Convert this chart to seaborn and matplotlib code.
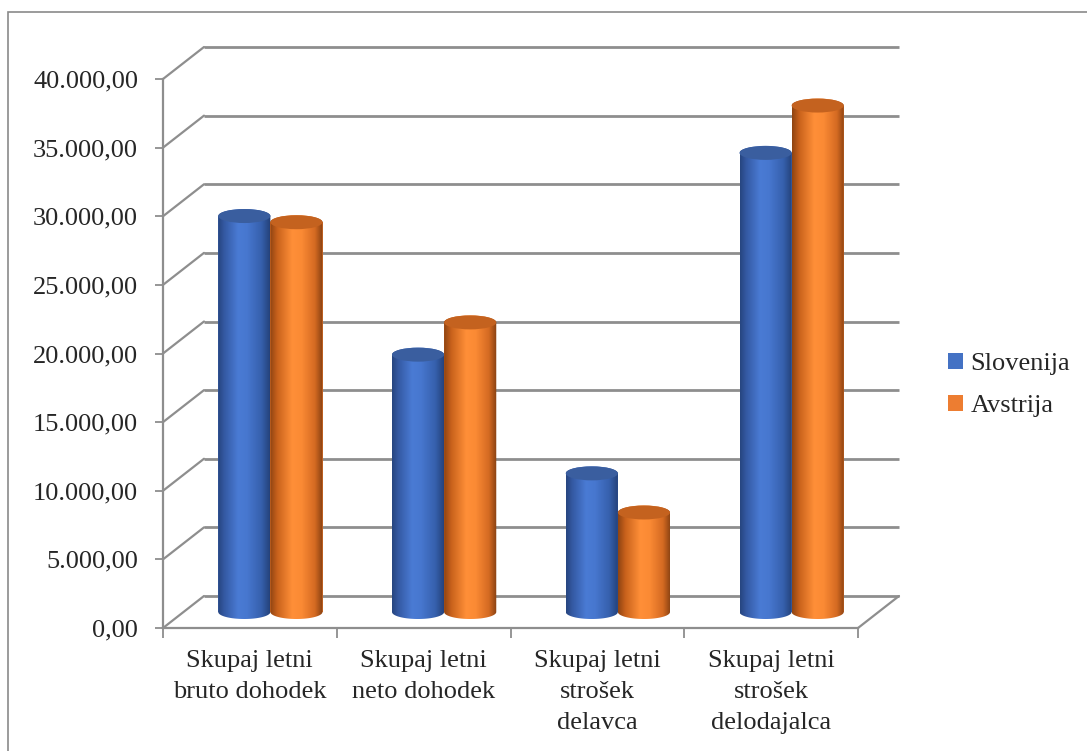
import numpy as np
import pandas as pd
import matplotlib
matplotlib.use("Agg")
import matplotlib.pyplot as plt
import matplotlib.transforms as mtransforms
from matplotlib.colors import LinearSegmentedColormap
from matplotlib.patches import Ellipse, Rectangle, PathPatch
from matplotlib.path import Path
import seaborn as sns

# --- data -------------------------------------------------------------
categories = [
    "Skupaj letni\nbruto dohodek",
    "Skupaj letni\nneto dohodek",
    "Skupaj letni\nstrošek\ndelavca",
    "Skupaj letni\nstrošek\ndelodajalca",
]
series = ["Slovenija", "Avstrija"]
slovenija = [28850, 18750, 10100, 33450]
avstrija = [28400, 21100, 7250, 36900]
y_ticks = [0, 5000, 10000, 15000, 20000, 25000, 30000, 35000, 40000]

df = pd.DataFrame({
    "kategorija": categories * 2,
    "vrednost": slovenija + avstrija,
    "država": [series[0]] * len(categories) + [series[1]] * len(categories),
})

# --- style ------------------------------------------------------------
sns.set_style("white")
plt.rcParams["font.family"] = ["Liberation Serif", "DejaVu Serif"]
FS = 19

W, H = 1087, 751
fig = plt.figure(figsize=(W / 100, H / 100), dpi=100)
fig.patch.set_facecolor("white")

# front plane of the pseudo-3D box (pixels)
X0, X1 = 163, 858
Y0, Y1 = 628, 79
ax = fig.add_axes([X0 / W, (H - Y0) / H, (X1 - X0) / W, (Y0 - Y1) / H])
ax.set_facecolor("none")

XMIN, XMAX = -0.5, 3.5
YMIN, YMAX = 0, 40000
px_x = (X1 - X0) / (XMAX - XMIN)
px_y = (Y0 - Y1) / (YMAX - YMIN)
DX_PX, DY_PX = 41, 32           # depth offset of the back wall
dx, dy = DX_PX / px_x, DY_PX / px_y

blue, orange = "#4472C4", "#ED7D31"
sns.barplot(data=df, x="kategorija", y="vrednost", hue="država",
            palette=[blue, orange], width=0.6, saturation=1,
            ax=ax, linewidth=0, zorder=2)

GRID = "#8e8e8e"
GLW = 2.0
# back wall grid + left side-wall diagonals
for v in y_ticks:
    ax.plot([XMIN + dx, XMAX + dx], [v + dy, v + dy], color=GRID, lw=GLW,
            clip_on=False, zorder=0.5, solid_capstyle="butt")
    ax.plot([XMIN, XMIN + dx], [v, v + dy], color=GRID, lw=1.6,
            clip_on=False, zorder=0.5)
# right edge of the floor
ax.plot([XMAX, XMAX + dx], [0, dy], color=GRID, lw=1.6, clip_on=False, zorder=0.5)

# --- cylinders ----------------------------------------------------------
mid = ax.transData + mtransforms.ScaledTranslation(DX_PX / 2 / 100, DY_PX / 2 / 100,
                                                   fig.dpi_scale_trans)
e = 7.0 / px_y  # half height of the elliptical ends

shade = {
    blue: LinearSegmentedColormap.from_list("b", [
        (0.0, "#27457f"), (0.12, "#3459a3"), (0.38, "#4a7bd4"),
        (0.55, "#4777cf"), (0.82, "#3660ad"), (1.0, "#233f75")]),
    orange: LinearSegmentedColormap.from_list("o", [
        (0.0, "#8e4412"), (0.14, "#c9621c"), (0.42, "#ff8f38"),
        (0.6, "#fb8a34"), (0.85, "#d46a22"), (1.0, "#864012")]),
}
cap = {blue: "#3a5e9f", orange: "#c4621f"}

bars = [p for p in ax.patches if isinstance(p, Rectangle) and p.get_height() > 0]
n_cat = len(categories)
for i, p in enumerate(bars):
    col = blue if i < n_cat else orange
    z = 2 + (i // n_cat)
    x0, w, h = p.get_x(), p.get_width(), p.get_height()
    p.set_transform(mid)
    p.set_clip_on(False)
    p.set_zorder(z)

    t = np.linspace(0, np.pi, 60)
    bottom = np.column_stack([x0 + w / 2 - w / 2 * np.cos(t), -e * np.sin(t)])
    top = np.column_stack([x0 + w / 2 + w / 2 * np.cos(t), h + e * np.sin(t)])
    verts = np.vstack([bottom, top, bottom[:1]])
    codes = [Path.MOVETO] + [Path.LINETO] * (len(verts) - 2) + [Path.CLOSEPOLY]
    body = PathPatch(Path(verts, codes), transform=mid, facecolor="none",
                     edgecolor="none")
    ax.add_patch(body)
    img = ax.imshow(np.linspace(0, 1, 256)[None, :], cmap=shade[col],
                    extent=(x0, x0 + w, -e, h + e), aspect="auto",
                    transform=mid, zorder=z + 0.1, interpolation="bilinear")
    img.set_clip_path(body)
    ax.add_patch(Ellipse((x0 + w / 2, h), w, 2 * e, transform=mid,
                         facecolor=cap[col], edgecolor="none", zorder=z + 0.2,
                         clip_on=False))

ax.set_xlim(XMIN, XMAX)
ax.set_ylim(YMIN, YMAX)

# --- axes, ticks, labels --------------------------------------------------
def fmt(v):
    s = f"{v:,.2f}"
    return s.replace(",", " ").replace(".", ",").replace(" ", ".")

for side in ("top", "right"):
    ax.spines[side].set_visible(False)
for side in ("left", "bottom"):
    ax.spines[side].set_color(GRID)
    ax.spines[side].set_linewidth(1.6)

ax.set_yticks(y_ticks)
ax.set_yticklabels([fmt(v) for v in y_ticks], fontsize=FS)
ax.set_xticks(range(n_cat))
ax.set_xticklabels(categories, fontsize=FS, linespacing=1.52, va="top")
ax.set_xticks(np.arange(XMIN, XMAX + 0.01, 1), minor=True)
ax.tick_params(axis="y", length=6, width=1.3, color=GRID, pad=12,
               left=True, direction="out")
ax.tick_params(axis="x", which="major", length=0, pad=16)
ax.tick_params(axis="x", which="minor", length=7, width=1.3, color=GRID,
               bottom=True, direction="out")
ax.set_xlabel("")
ax.set_ylabel("")
ax.grid(False)

sns.move_legend(ax, loc="center left", bbox_to_anchor=(948 / W, 1 - 385 / H),
                bbox_transform=fig.transFigure, frameon=False, title=None,
                fontsize=FS, handlelength=0.55, handleheight=0.55,
                handletextpad=0.3, labelspacing=0.75, borderpad=0,
                borderaxespad=0)

# outer chart border
fig.patches.append(Rectangle((8 / W, -0.05), 1.2, 1 - 12 / H + 0.05,
                             transform=fig.transFigure, fill=False,
                             edgecolor="#8a8a8a", lw=1.2))

fig.savefig("out.png", dpi=100)
